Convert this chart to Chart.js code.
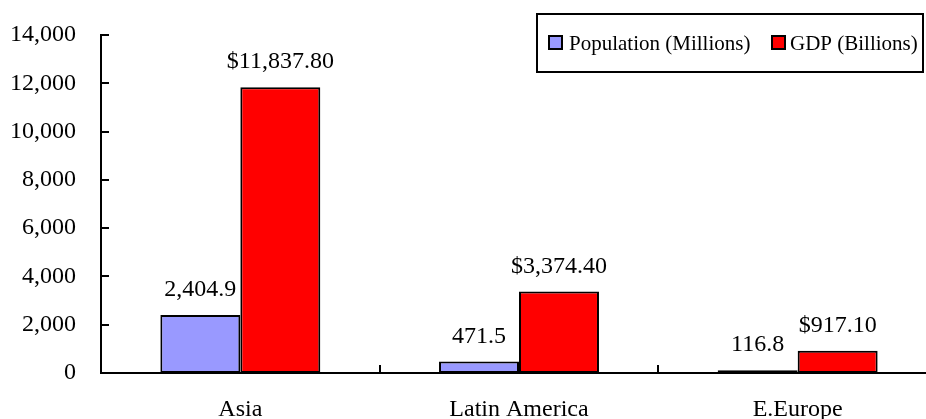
<!DOCTYPE html>
<html>
<head>
<meta charset="utf-8">
<script src="https://cdn.jsdelivr.net/npm/chart.js@4/dist/chart.umd.min.js"></script>
<style>
  html, body { margin: 0; padding: 0; background: #fff; }
  #wrap { width: 926px; height: 419px; overflow: hidden; position: relative; }
  canvas { display: block; }
</style>
</head>
<body>
<div id="wrap"><canvas id="c" width="940" height="419"></canvas></div>
<script>
const categories = ['Asia', 'Latin America', 'E.Europe'];
const populationMillions = [2404.9, 471.5, 116.8];
const gdpBillions = [11837.8, 3374.4, 917.1];
const seriesNames = ['Population (Millions)', 'GDP (Billions)'];
const yMin = 0, yMax = 14000, yStep = 2000;

const FONT = "'Liberation Serif', 'Times New Roman', Times, serif";
Chart.defaults.font.family = FONT;
Chart.defaults.color = '#000';

const fmtPop = v => v.toLocaleString('en-US', {minimumFractionDigits: 1, maximumFractionDigits: 1});
const fmtGdp = v => '$' + v.toLocaleString('en-US', {minimumFractionDigits: 2, maximumFractionDigits: 2});

const axesPlugin = {
  id: 'axesPlugin',
  afterDraw(chart) {
    const {ctx, chartArea, scales: {x, y}} = chart;
    ctx.save();
    ctx.strokeStyle = '#000';
    ctx.lineWidth = 2;
    ctx.beginPath();
    ctx.moveTo(chartArea.left, chartArea.top - 1);
    ctx.lineTo(chartArea.left, chartArea.bottom);
    ctx.lineTo(chart.width, chartArea.bottom);
    ctx.stroke();
    y.ticks.forEach(t => {
      const py = Math.round(y.getPixelForValue(t.value));
      ctx.beginPath();
      ctx.moveTo(chartArea.left, py);
      ctx.lineTo(chartArea.left + 8, py);
      ctx.stroke();
    });
    const half = (x.getPixelForValue(1) - x.getPixelForValue(0)) / 2;
    for (let i = 0; i < categories.length - 1; i++) {
      const px = Math.round(x.getPixelForValue(i) + half);
      ctx.beginPath();
      ctx.moveTo(px, chartArea.bottom);
      ctx.lineTo(px, chartArea.bottom - 8);
      ctx.stroke();
    }
    ctx.restore();
  }
};

const labelPlugin = {
  id: 'labelPlugin',
  afterDatasetsDraw(chart) {
    const {ctx} = chart;
    ctx.save();
    ctx.font = '24px ' + FONT;
    ctx.fillStyle = '#000';
    ctx.textAlign = 'center';
    ctx.textBaseline = 'alphabetic';
    chart.data.datasets.forEach((ds, di) => {
      const meta = chart.getDatasetMeta(di);
      meta.data.forEach((bar, i) => {
        const txt = di === 0 ? fmtPop(ds.data[i]) : fmtGdp(ds.data[i]);
        ctx.fillText(txt, bar.x, bar.y - 19);
      });
    });
    ctx.restore();
  }
};

const legendPlugin = {
  id: 'legendPlugin',
  afterDraw(chart) {
    const {ctx} = chart;
    ctx.save();
    ctx.strokeStyle = '#000';
    ctx.lineWidth = 2;
    ctx.fillStyle = '#fff';
    ctx.fillRect(537, 14, 386, 58);
    ctx.strokeRect(537, 14, 386, 58);
    ctx.font = '21px ' + FONT;
    ctx.textBaseline = 'alphabetic';
    ctx.textAlign = 'left';
    const items = [{x: 549, tx: 569}, {x: 772, tx: 790}];
    chart.data.datasets.forEach((ds, i) => {
      const it = items[i];
      ctx.fillStyle = ds.backgroundColor;
      ctx.fillRect(it.x, 36, 13, 13);
      ctx.strokeRect(it.x, 36, 13, 13);
      ctx.fillStyle = '#000';
      ctx.fillText(ds.label, it.tx, 50);
    });
    ctx.restore();
  }
};

new Chart(document.getElementById('c'), {
  type: 'bar',
  data: {
    labels: categories,
    datasets: [
      { label: seriesNames[0], data: populationMillions, backgroundColor: '#9999FF', borderColor: '#000', borderWidth: 2, borderSkipped: false },
      { label: seriesNames[1], data: gdpBillions, backgroundColor: '#FF0000', borderColor: '#000', borderWidth: 2, borderSkipped: false }
    ]
  },
  options: {
    responsive: false,
    animation: false,
    layout: { padding: { top: 35, right: 3, left: 0, bottom: 0 } },
    datasets: { bar: { categoryPercentage: 0.574, barPercentage: 1.0 } },
    plugins: { legend: { display: false }, tooltip: { enabled: false } },
    scales: {
      x: {
        grid: { display: false, drawTicks: false },
        border: { display: false },
        ticks: { font: { size: 24 }, padding: 22, color: '#000', maxRotation: 0 },
        afterFit: s => { s.height = 46; s.paddingLeft = 0; s.paddingRight = 0; }
      },
      y: {
        min: yMin, max: yMax,
        grid: { display: false, drawTicks: false },
        border: { display: false },
        ticks: { stepSize: yStep, font: { size: 24 }, padding: 25, color: '#000',
                 callback: v => v.toLocaleString('en-US') },
        afterFit: s => { s.width = 101; s.paddingTop = 0; s.paddingBottom = 0; }
      }
    }
  },
  plugins: [axesPlugin, labelPlugin, legendPlugin]
});
</script>
</body>
</html>
